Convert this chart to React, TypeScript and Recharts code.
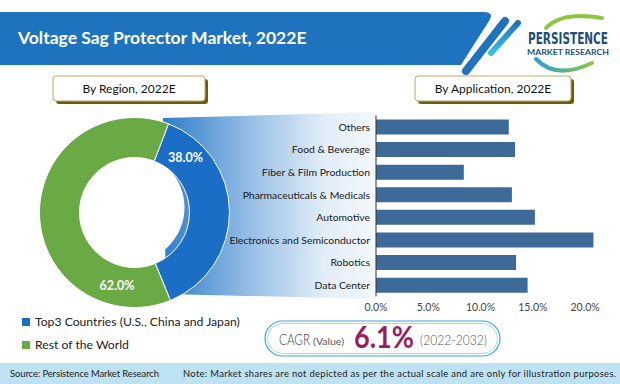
import React from 'react'
import { PieChart, Pie, Cell, BarChart, Bar, XAxis, YAxis } from 'recharts'

// ── Data ──────────────────────────────────────────────────────────────────────
const REGION_NAMES  = ['Top3 Countries (U.S., China and Japan)', 'Rest of the World']
const REGION_SHARE  = [38.0, 62.0]
const REGION_COLORS = ['#1B6EC6', '#6AAA45']

const APP_NAMES = [
  'Others',
  'Food & Beverage',
  'Fiber & Film Production',
  'Pharmaceuticals & Medicals',
  'Automotive',
  'Electronics and Semiconductor',
  'Robotics',
  'Data Center',
]
const APP_SHARE = [12.7, 13.3, 8.4, 13.0, 15.2, 20.8, 13.4, 14.5]
const X_TICKS   = [0, 5, 10, 15, 20]

const TITLE      = 'Voltage Sag Protector Market, 2022E'
const CAGR_VALUE = '6.1%'
const CAGR_SPAN  = '(2022-2032)'

const regionData = REGION_NAMES.map((name, i) => ({ name, value: REGION_SHARE[i] }))
const appData    = APP_NAMES.map((name, i) => ({ name, value: APP_SHARE[i] }))

const FONT = 'Lato, "Open Sans", sans-serif'

// donut geometry (pie box sits at left 0, top 100)
const PIE_CX = 129.5
const PIE_CY = 107.5
const PIE_IN = 55
const PIE_OUT = 95

// label sits a little after the start of each slice, mid-ring
function renderPieLabel(p: any) {
  const { cx, cy, startAngle, endAngle, innerRadius, outerRadius, percent } = p
  const a = ((startAngle + (endAngle - startAngle) * 0.16) * Math.PI) / 180
  const r = (innerRadius + outerRadius) / 2
  return (
    <text
      x={cx + r * Math.cos(a)}
      y={cy - r * Math.sin(a)}
      fill="#fff"
      fontSize={12.5}
      fontWeight={700}
      fontFamily={FONT}
      textAnchor="middle"
      dominantBaseline="central"
    >
      {(percent * 100).toFixed(1)}%
    </text>
  )
}

// plain single-line category tick (recharts would wrap long names)
function AppTick({ x, y, payload }: any) {
  return (
    <text x={x} y={y} dy={4} textAnchor="end" fontSize={10.4} fill="#1a1a1a" fontFamily={FONT}>
      {payload.value}
    </text>
  )
}

function Decor() {
  return (
    <svg width={620} height={384} style={{ position: 'absolute', left: 0, top: 0 }}>
      <defs>
        <linearGradient id="wedge" x1={163} x2={376} y1={0} y2={0} gradientUnits="userSpaceOnUse">
          <stop offset="0" stopColor="#2f7dcc" />
          <stop offset="0.4" stopColor="#94bde4" />
          <stop offset="0.75" stopColor="#e1edf8" />
          <stop offset="1" stopColor="#f3f8fc" />
        </linearGradient>
        <linearGradient id="stripe2" x1={0} y1={0} x2={0} y2={1}>
          <stop offset="0" stopColor="#1f73be" />
          <stop offset="1" stopColor="#3cc0ec" />
        </linearGradient>
        <linearGradient id="swoosh" x1={0} y1={0} x2={1} y2={0}>
          <stop offset="0" stopColor="#2a9fd8" />
          <stop offset="1" stopColor="#8cc63f" />
        </linearGradient>
      </defs>

      {/* header band */}
      <path d="M0,12 L483,12 Q495,12 489,21 L461,65 L0,65 Z" fill="#1F73BE" />
      <line x1={505} y1={21} x2={466} y2={71} stroke="#1F73BE" strokeWidth={8} strokeLinecap="round" />
      <line x1={518} y1={23} x2={491} y2={53} stroke="url(#stripe2)" strokeWidth={6} strokeLinecap="round" />
      <text x={18} y={44} fill="#fff" fontSize={17.5} fontWeight={700} fontFamily={FONT}>{TITLE}</text>

      {/* logo */}
      <path d="M546,28 Q562,11 602,18" stroke="#8cc63f" strokeWidth={4} fill="none" strokeLinecap="round" />
      <path d="M536,59 Q556,80 592,63" stroke="url(#swoosh)" strokeWidth={4} fill="none" strokeLinecap="round" />
      <text x={568} y={44} fill="#1d4f7c" fontSize={16} fontWeight={700} fontFamily='"Liberation Sans Narrow", "DejaVu Sans Condensed", sans-serif' textAnchor="middle" textLength={80} lengthAdjust="spacingAndGlyphs">PERSISTENCE</text>
      <text x={568} y={55} fill="#1d4f7c" fontSize={7.5} fontWeight={700} fontFamily={FONT} textAnchor="middle" textLength={82} lengthAdjust="spacingAndGlyphs">MARKET RESEARCH</text>

      {/* section headers */}
      <rect x={56} y={79} width={152} height={25} rx={3} fill="#6e5c0e" />
      <rect x={53} y={76} width={152} height={25} rx={3} fill="#fff" stroke="#b9ad6a" strokeWidth={1} />
      <text x={129} y={93} fontSize={12} fontFamily={FONT} fill="#111" textAnchor="middle">By Region, 2022E</text>
      <rect x={418} y={79} width={156} height={25} rx={3} fill="#6e5c0e" />
      <rect x={415} y={76} width={156} height={25} rx={3} fill="#fff" stroke="#b9ad6a" strokeWidth={1} />
      <text x={493} y={93} fontSize={12} fontFamily={FONT} fill="#111" textAnchor="middle">By Application, 2022E</text>

      {/* connector wedge from pie slice to bar chart; hole of the donut stays white */}
      <path d="M163,118 L376,112 L376,299 L166,294 Z" fill="url(#wedge)" />
      <circle cx={PIE_CX} cy={100 + PIE_CY} r={PIE_IN} fill="#fff" />

      {/* CAGR pill */}
      <rect x={265} y={321} width={235} height={35} rx={17.5} fill="#fff" stroke="#3aa6d8" strokeWidth={1.2} />
      <rect x={267.5} y={323.5} width={230} height={30} rx={15} fill="none" stroke="#a9d8ee" strokeWidth={1} />
      <text x={279} y={345} fontSize={15} fill="#444" fontWeight={300} fontFamily={FONT} textLength={31} lengthAdjust="spacingAndGlyphs">CAGR</text>
      <text x={313} y={345} fontSize={8.5} fill="#555" fontFamily={FONT} textLength={31} lengthAdjust="spacingAndGlyphs">(Value)</text>
      <text x={354} y={348} fontSize={30} fill="#9c1d5c" fontWeight={700} fontFamily={FONT} textLength={60} lengthAdjust="spacingAndGlyphs">{CAGR_VALUE}</text>
      <text x={420} y={345} fontSize={13} fill="#555" fontWeight={300} fontFamily={FONT} textLength={67} lengthAdjust="spacingAndGlyphs">{CAGR_SPAN}</text>

      {/* footer */}
      <rect x={0} y={363} width={620} height={21} fill="#bde2f1" />
      <text x={10} y={377} fontSize={9.4} fontFamily={FONT} fill="#222" textLength={149} lengthAdjust="spacing">Source: Persistence Market Research</text>
      <text x={183} y={377} fontSize={9.4} fontFamily={FONT} fill="#222" textLength={433} lengthAdjust="spacing">
        Note: Market shares are not depicted as per the actual scale and are only for illustration purposes.
      </text>
    </svg>
  )
}

export default function App() {
  return (
    <div style={{ position: 'absolute', left: 0, top: 0, width: 620, height: 384, background: '#fff', overflow: 'hidden', fontFamily: FONT }}>
      <Decor />

      {/* Donut: by region */}
      <div style={{ position: 'absolute', left: 0, top: 100 }}>
        <PieChart width={260} height={215}>
          <Pie
            data={regionData}
            dataKey="value"
            nameKey="name"
            cx={PIE_CX}
            cy={PIE_CY}
            innerRadius={PIE_IN}
            outerRadius={PIE_OUT}
            startAngle={69}
            endAngle={-291}
            stroke="#fff"
            strokeWidth={1}
            label={renderPieLabel}
            labelLine={false}
            isAnimationActive={false}
          >
            {regionData.map((_, i) => (
              <Cell key={i} fill={REGION_COLORS[i]} />
            ))}
          </Pie>
        </PieChart>
      </div>

      {/* Legend for the donut */}
      <div style={{ position: 'absolute', left: 22, top: 310, fontSize: 12.2, color: '#222' }}>
        {REGION_NAMES.map((name, i) => (
          <div key={name} style={{ display: 'flex', alignItems: 'center', height: 23 }}>
            <span style={{ width: 8, height: 8, background: REGION_COLORS[i], marginRight: 5, display: 'inline-block' }} />
            {name}
          </div>
        ))}
      </div>

      {/* Bars: by application */}
      <div style={{ position: 'absolute', left: 200, top: 100 }}>
        <BarChart
          layout="vertical"
          width={420}
          height={230}
          data={appData}
          margin={{ top: 15.4, right: 14, bottom: 9.7, left: 0 }}
          barSize={15}
        >
          <XAxis
            type="number"
            domain={[0, 22]}
            ticks={X_TICKS}
            tickFormatter={(v: number) => `${v.toFixed(1)}%`}
            axisLine={false}
            tickLine={false}
            tickSize={5}
            tickMargin={2}
            height={24}
            tick={{ fontSize: 10.5, fill: '#444', fontFamily: FONT }}
          />
          <YAxis
            type="category"
            dataKey="name"
            width={176}
            axisLine={{ stroke: '#333', strokeWidth: 1 }}
            tickLine={false}
            tickSize={4}
            tickMargin={2}
            interval={0}
            tick={<AppTick />}
          />
          <Bar dataKey="value" fill="#3E6A9A" isAnimationActive={false} />
        </BarChart>
      </div>
    </div>
  )
}
